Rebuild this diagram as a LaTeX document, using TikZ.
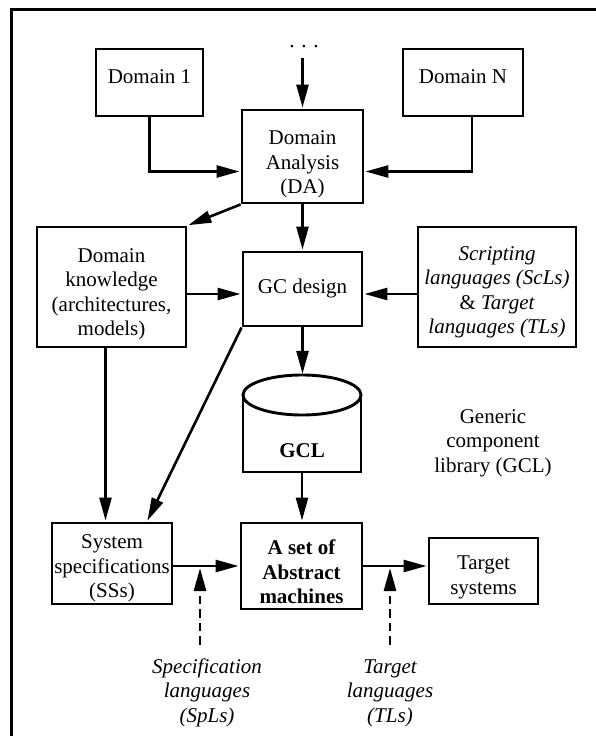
\documentclass[tikz,border=0pt]{standalone}
\usepackage{fontspec}
\setmainfont{Liberation Serif}
\usetikzlibrary{arrows.meta}
% centred stack of lines, optionally lowered inside its box
\newcommand{\rows}[2][0pt]{\raisebox{-#1}[\height][\depth]{\begin{tabular}{@{}c@{}}#2\end{tabular}}}
\begin{document}
\begin{tikzpicture}[x=1pt,y=-1pt,
  every node/.style={font=\fontsize{21}{24.5}\selectfont, inner sep=0pt},
  box/.style={draw, line width=2.9pt},
  arr/.style={line width=2.6pt, shorten >=1pt, -{Triangle[length=23pt,width=12pt]}},
  darr/.style={arr, dash pattern=on 8.5pt off 5pt},
  it/.style={font=\fontsize{21}{24.5}\selectfont\itshape},
  bf/.style={font=\fontsize{21}{24.5}\selectfont\bfseries}]
\useasboundingbox (0,0) rectangle (595,736);

% frame
\draw[line width=3pt] (11.5,745) -- (11.5,9.5) -- (605,9.5);

% boxes
\node[box, minimum width=107pt, minimum height=67pt] (d1) at (149.5,82.5) {\rows[-4.4pt]{Domain 1}};
\node[box, minimum width=120pt, minimum height=67pt] (dn) at (463,82.5) {\rows[-4.4pt]{Domain N}};
\node (dots) at (304,47) {.\hspace{6.75pt}.\hspace{6.75pt}.};
\node[box, minimum width=121pt, minimum height=93pt] (da) at (302.5,156.5) {\rows[8pt]{Domain\\Analysis\\(DA)}};
\node[box, minimum width=149pt, minimum height=120pt] (dk) at (111.5,287) {\rows[7pt]{Domain\\knowledge\\(architectures,\\models)}};
\node[box, minimum width=119pt, minimum height=74pt] (gc) at (302.5,289) {\rows{GC design}};
\node[box, minimum width=158pt, minimum height=120pt] (sc) at (497,287)
  {\rows[5pt]{\itshape Scripting\\\itshape languages (ScLs)\\\& \itshape Target\\\itshape languages (TLs)}};
\node[box, minimum width=120pt, minimum height=81pt] (ss) at (112,563.5) {\rows[5pt]{System\\specifications\\(SSs)}};
\node[box, bf, minimum width=121pt, minimum height=86pt] (am) at (301.5,566) {\rows[8.5pt]{A set of\\Abstract\\machines}};
\node[box, minimum width=109pt, minimum height=66pt] (ts) at (483.5,571) {\rows[6pt]{Target\\systems}};

% library cylinder
\draw[line width=2.9pt] (243,395) -- (243,472) -- (361,472) -- (361,395);
\draw[line width=2.9pt] (302,395) ellipse [x radius=59pt, y radius=20pt];
\node[minimum width=118pt, minimum height=97pt] (lib) at (302,423.5) {};
\node[bf] (gcl) at (302,453) {\rows{GCL}};
\node (gen) at (493,442.6) {\rows{Generic\\component\\library (GCL)}};

% language labels
\node[it] (spl) at (207,692.6) {\rows{Specification\\languages\\(SpLs)}};
\node[it] (tl) at (390,692.6) {\rows{Target\\languages\\(TLs)}};

% junction rows
\coordinate (darow) at (302.5,171.5);
\coordinate (gcrow) at (302.5,294);
\coordinate (j1) at (200,567);
\coordinate (j2) at (390,567);

% connectors
\draw[arr, shorten <=10pt] (dots.south -| da.north) -- (da.north);
\draw[arr] (d1.south) |- (da.west |- darow);
\draw[arr] ([xshift=9pt]dn.south) |- (da.east |- darow);
\draw[arr] (da.south west) -- (dk.north east);
\draw[arr] (da) -- (gc);
\draw[arr] (dk.east |- gcrow) -- (gc.west |- gcrow);
\draw[arr] (sc.west |- gcrow) -- (gc.east |- gcrow);
\draw[arr] (gc.south) -- (gc.south |- lib.north);
\draw[arr] ([xshift=-6pt]dk.south) -- ([xshift=-6pt]dk.south |- ss.north);
\draw[arr] (gc.south west) -- ([xshift=35pt]ss.north);
\draw[arr] (lib.south) -- (lib.south |- am.north);
\draw[arr] (ss.east |- am.west) -- (am.west);
\draw[arr] (am.east) -- (ts.west |- am.east);
\draw[darr, shorten <=11pt] (j1 |- spl.north) -- (j1);
\draw[darr, shorten <=11pt] (j2 |- tl.north) -- (j2);
\end{tikzpicture}
\end{document}
